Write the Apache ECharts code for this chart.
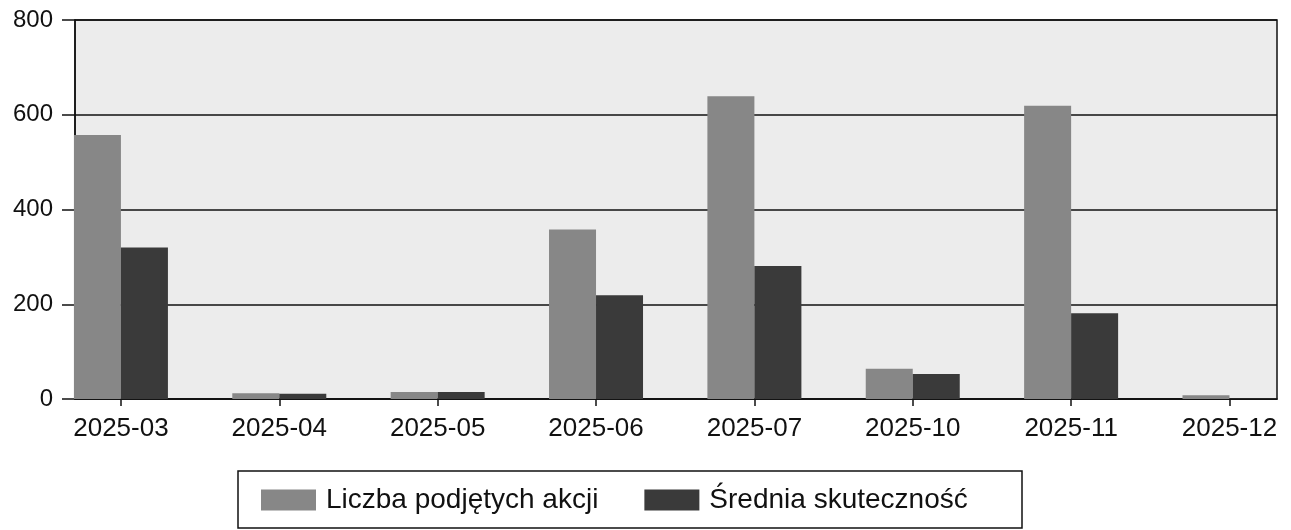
<!DOCTYPE html>
<html>
<head>
<meta charset="utf-8">
<title>Liczba podjętych akcji</title>
<script src="https://cdn.jsdelivr.net/npm/echarts@6/dist/echarts.min.js"></script>
<style>
  html, body { margin: 0; padding: 0; background: #fff; }
  #main { width: 1291px; height: 530px; }
</style>
</head>
<body>
<div id="main"></div>
<script>
// dane
var months = ['2025-03', '2025-04', '2025-05', '2025-06', '2025-07', '2025-10', '2025-11', '2025-12'];
var akcje = [557, 12, 15, 358, 639, 64, 619, 8];
var skutecznosc = [320, 11, 15, 219, 281, 53, 181, 1];
var yTicks = [0, 200, 400, 600, 800];

var idx = months.map(function (m, i) { return i; });
var font = '"Liberation Sans", Arial, sans-serif';

var chart = echarts.init(document.getElementById('main'));

var option = {
    animation: false,
    backgroundColor: '#fff',
    grid: {
        left: 75, right: 14, top: 20, bottom: 131,
        show: true,
        backgroundColor: '#ececec',
        borderColor: '#111',
        borderWidth: 1.5
    },
    legend: {
        left: 261, top: 486,
        padding: 0,
        itemWidth: 55, itemHeight: 21, itemGap: 46,
        icon: 'rect',
        textStyle: { fontFamily: font, fontSize: 28, color: '#111', padding: [0, 0, 0, 5] },
        data: ['Liczba podjętych akcji', 'Średnia skuteczność']
    },
    graphic: [{
        type: 'rect',
        shape: { x: 238, y: 471, width: 784, height: 57 },
        style: { fill: 'none', stroke: '#111', lineWidth: 1.5 },
        z: 0
    }],
    xAxis: {
        type: 'value',
        min: -0.29,
        max: 7.3,
        splitLine: { show: false },
        axisLine: { show: true, lineStyle: { color: '#111', width: 1.5 } },
        axisTick: { show: true, length: 7, customValues: idx, lineStyle: { color: '#111', width: 1.5 } },
        axisLabel: {
            customValues: idx,
            margin: 17,
            fontFamily: font, fontSize: 26, color: '#111',
            formatter: function (v) { return months[Math.round(v)]; }
        }
    },
    yAxis: {
        type: 'value',
        min: 0, max: 800, interval: 200,
        axisLine: { show: true, onZero: false, lineStyle: { color: '#111', width: 1.5 } },
        axisTick: { show: true, length: 13, lineStyle: { color: '#111', width: 1.5 } },
        axisLabel: { margin: 22, fontFamily: font, fontSize: 24, color: '#111' },
        splitLine: { show: true, lineStyle: { color: '#111', width: 1.5 } }
    },
    series: [{
        name: 'Liczba podjętych akcji',
        type: 'bar',
        barWidth: 47,
        barGap: '0%',
        itemStyle: { color: '#878787' },
        data: akcje.map(function (v, i) { return [i, v]; })
    }, {
        name: 'Średnia skuteczność',
        type: 'bar',
        barWidth: 47,
        barGap: '0%',
        itemStyle: { color: '#3a3a3a' },
        data: skutecznosc.map(function (v, i) { return [i, v]; })
    }]
};

chart.setOption(option);
</script>
</body>
</html>
